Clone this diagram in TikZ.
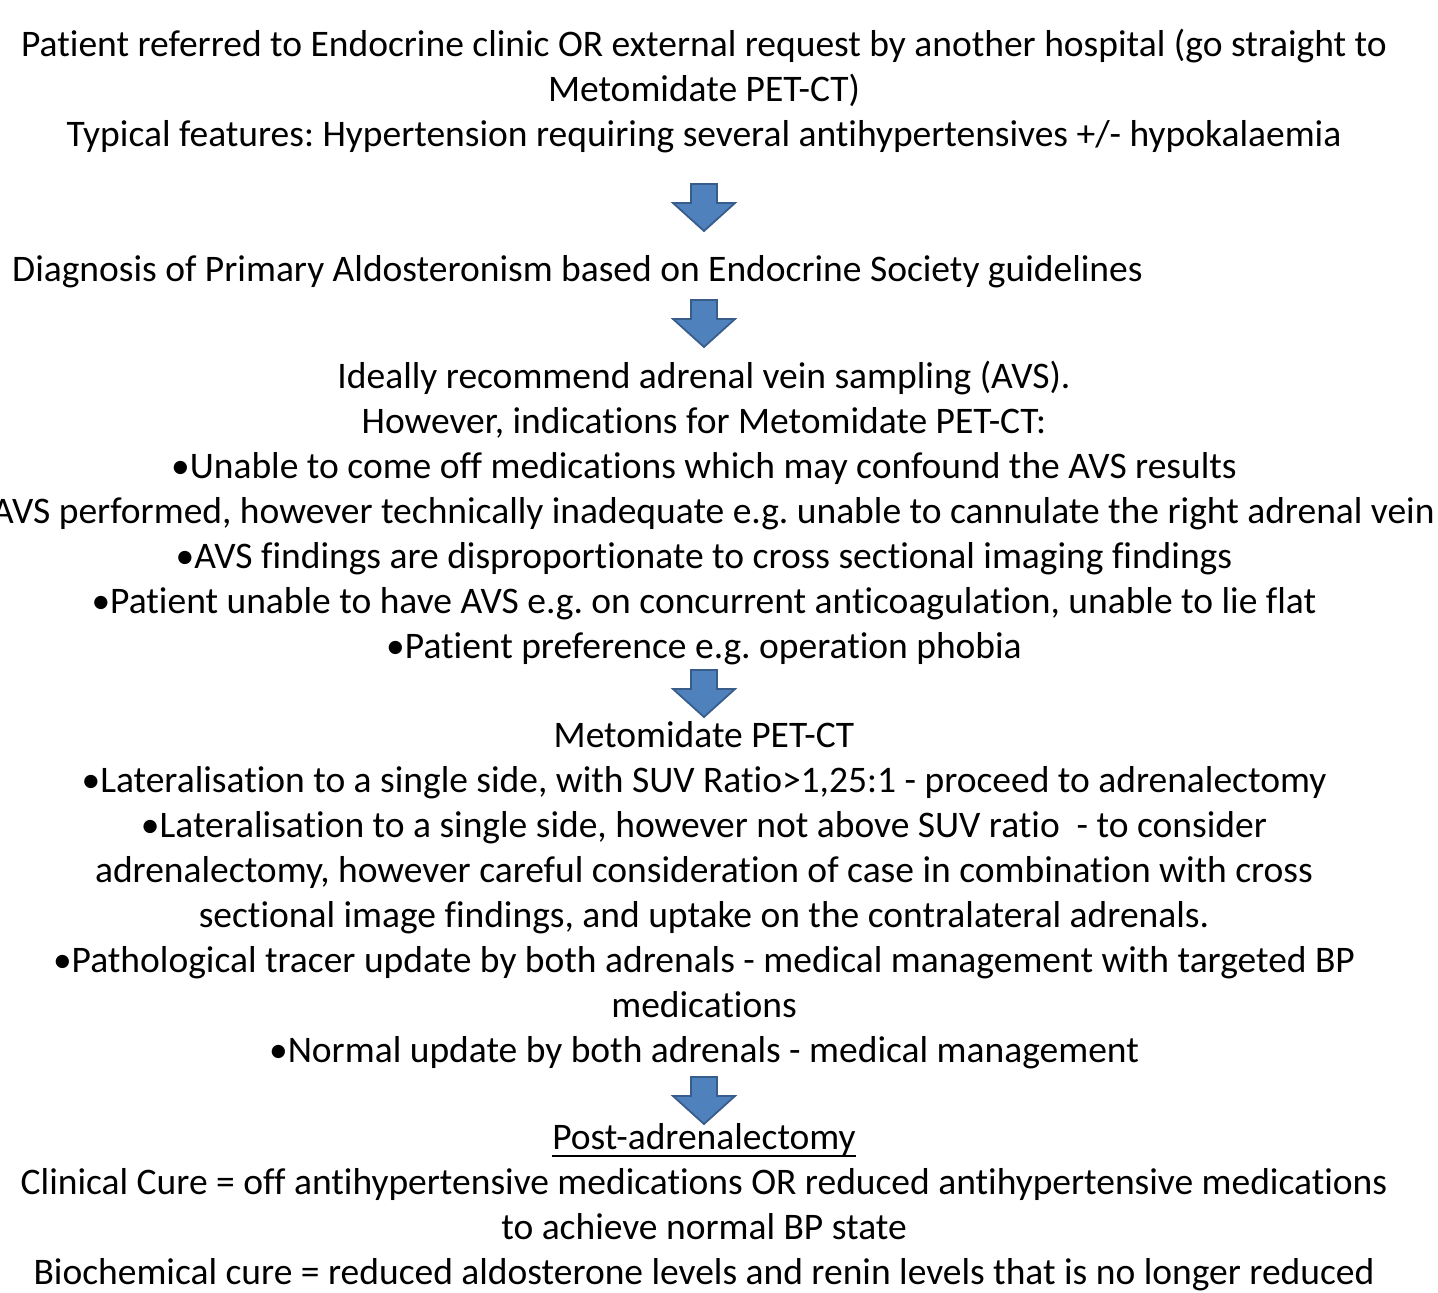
\documentclass[tikz,border=0pt]{standalone}
\usepackage{fontspec}
\setmainfont{Carlito}[Ligatures=NoCommon]
\definecolor{arrfill}{HTML}{4F81BD}
\definecolor{arrdraw}{HTML}{385D8A}
\newcommand\thickul[1]{\setbox0\hbox{#1}\rlap{\rule[-7pt]{\wd0}{2.4pt}}\box0}
\tikzset{
  txt/.style={inner sep=0pt, align=center, font=\fontsize{37.5}{44.9}\selectfont\frenchspacing},
  blockarrow/.pic={
    \draw[arrdraw, fill=arrfill, line width=1.8pt, line join=miter]
      (-13,0) -- (13,0) -- (13,-19) -- (31,-19) -- (0,-47) -- (-31,-19) -- (-13,-19) -- cycle;
    \coordinate (-tip) at (0,-47);
  }
}
\begin{document}
\begin{tikzpicture}[x=1pt,y=1pt]
\useasboundingbox (0,0) rectangle (1438,-1293);
\node[txt, anchor=north] (b1) at (704,-25.3) {\strut Patient referred to Endocrine clinic OR external request by another hospital (go straight to\\ Metomidate PET-CT)\\ Typical features: Hypertension requiring several antihypertensives +/- hypokalaemia};
\pic (a1) at (704,-184) {blockarrow};
\node[txt, anchor=north west] (b2) at (12,-250.3) {\strut Diagnosis of Primary Aldosteronism based on Endocrine Society guidelines};
\pic (a2) at (704,-300) {blockarrow};
\node[txt, anchor=north] (b3) at (704,-357.3) {\strut Ideally recommend adrenal vein sampling (AVS).\\
However, indications for Metomidate PET-CT:\\
•Unable to come off medications which may confound the AVS results\\
•AVS performed, however technically inadequate e.g. unable to cannulate the right adrenal vein\\
•AVS findings are disproportionate to cross sectional imaging findings\\
•Patient unable to have AVS e.g. on concurrent anticoagulation, unable to lie flat\\
•Patient preference e.g. operation phobia};
\pic (a3) at (704,-670) {blockarrow};
\node[txt, anchor=north] (b4) at (704,-716.3) {\strut Metomidate PET-CT\\
•Lateralisation to a single side, with SUV Ratio>1,25:1 - proceed to adrenalectomy\\
•Lateralisation to a single side, however not above SUV ratio\ \ - to consider\\
adrenalectomy, however careful consideration of case in combination with cross\\
sectional image findings, and uptake on the contralateral adrenals.\\
•Pathological tracer update by both adrenals - medical management with targeted BP\\
medications\\
•Normal update by both adrenals - medical management};
\pic (a4) at (704,-1077) {blockarrow};
\node[txt, anchor=north] (b5) at (704,-1118.3) {\strut \thickul{Post-adrenalectomy}\\
Clinical Cure = off antihypertensive medications OR reduced antihypertensive medications\\
to achieve normal BP state\\
Biochemical cure = reduced aldosterone levels and renin levels that is no longer reduced};
\end{tikzpicture}
\end{document}
